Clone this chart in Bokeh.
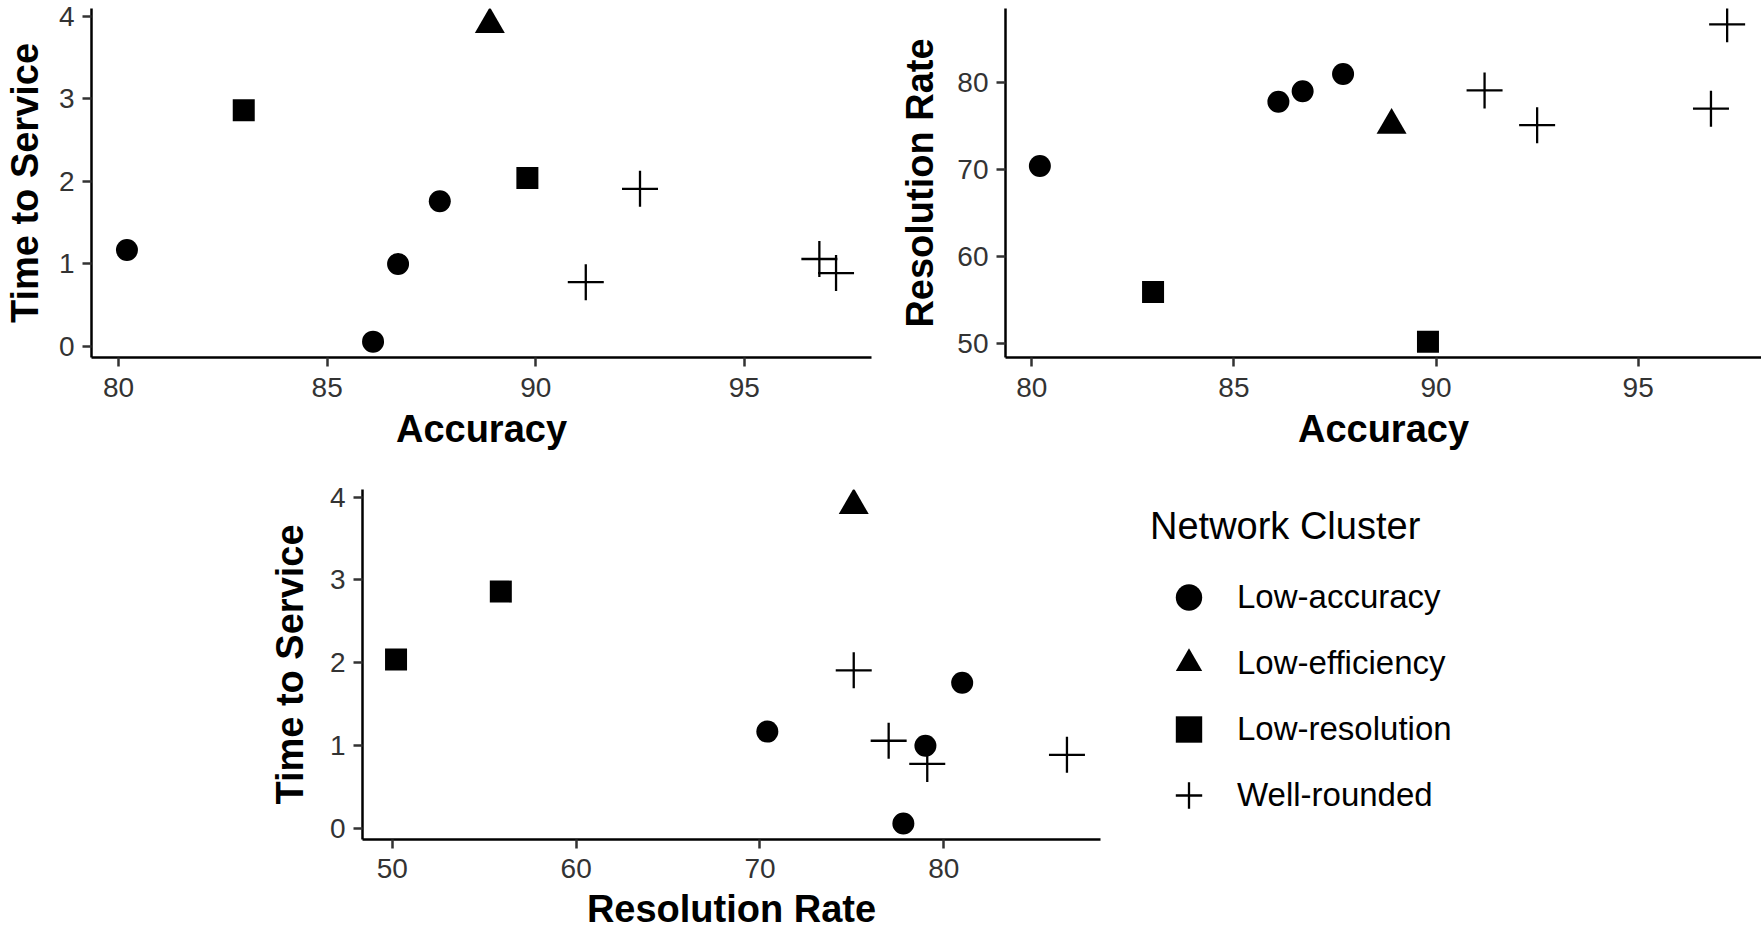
from bokeh.plotting import figure
from bokeh.models import FixedTicker, Range1d, Legend, LegendItem
from bokeh.layouts import column, row
from bokeh.embed import file_html
from bokeh.resources import INLINE

# ---- data ----
clusters = ["Low-accuracy", "Low-efficiency", "Low-resolution", "Well-rounded"]

low_accuracy_acc = [80.2, 86.1, 86.7, 87.7]
low_accuracy_tts = [1.17, 0.06, 1.00, 1.76]
low_accuracy_rr = [70.4, 77.8, 79.0, 81.0]

low_efficiency_acc = [88.9]
low_efficiency_tts = [3.90]
low_efficiency_rr = [75.1]

low_resolution_acc = [83.0, 89.8]
low_resolution_tts = [2.86, 2.04]
low_resolution_rr = [55.9, 50.2]

well_rounded_acc = [91.2, 92.5, 96.8, 97.2]
well_rounded_tts = [0.78, 1.91, 1.06, 0.89]
well_rounded_rr = [79.1, 75.1, 77.0, 86.7]

acc_ticks = [80, 85, 90, 95]
tts_ticks = [0, 1, 2, 3, 4]
rr_ticks = [50, 60, 70, 80]

series = {
    "Low-accuracy": dict(acc=low_accuracy_acc, tts=low_accuracy_tts, rr=low_accuracy_rr),
    "Low-efficiency": dict(acc=low_efficiency_acc, tts=low_efficiency_tts, rr=low_efficiency_rr),
    "Low-resolution": dict(acc=low_resolution_acc, tts=low_resolution_tts, rr=low_resolution_rr),
    "Well-rounded": dict(acc=well_rounded_acc, tts=well_rounded_tts, rr=well_rounded_rr),
}

marker_style = {
    "Low-accuracy": dict(marker="circle", size=22, fill_color="black", line_color=None),
    "Low-efficiency": dict(marker="triangle", size=30, fill_color="black", line_color=None),
    "Low-resolution": dict(marker="square", size=22, fill_color="black", line_color=None),
    "Well-rounded": dict(marker="cross", size=36, fill_color=None, line_color="black", line_width=2.3),
}

FONT = "Liberation Sans"


def expanded(key):
    vals = [v for c in clusters for v in series[c][key]]
    lo, hi = min(vals), max(vals)
    pad = 0.05 * (hi - lo)
    return lo - pad, hi + pad


def style_axis(ax, ticks, label, tick_standoff, label_standoff):
    ax.ticker = FixedTicker(ticks=ticks)
    ax.axis_label = label
    ax.axis_line_color = "black"
    ax.axis_line_width = 2.5
    ax.major_tick_line_color = "#333333"
    ax.major_tick_line_width = 2.5
    ax.major_tick_in = 0
    ax.major_tick_out = 9
    ax.minor_tick_line_color = None
    ax.major_label_text_font = FONT
    ax.major_label_text_font_size = "28px"
    ax.major_label_text_color = "#333333"
    ax.major_label_standoff = tick_standoff
    ax.axis_label_text_font = FONT
    ax.axis_label_text_font_size = "38px"
    ax.axis_label_text_font_style = "bold"
    ax.axis_label_text_color = "black"
    ax.axis_label_standoff = label_standoff


def base_fig(width, height, xr, yr, mb_left, mb_right, mb_top, mb_bottom, **kw):
    p = figure(width=width, height=height,
               x_range=Range1d(*xr), y_range=Range1d(*yr),
               output_backend="svg", toolbar_location=None,
               min_border_left=mb_left, min_border_right=mb_right,
               min_border_top=mb_top, min_border_bottom=mb_bottom, **kw)
    p.outline_line_color = None
    p.grid.visible = False
    p.background_fill_color = "white"
    p.border_fill_color = "white"
    if "frame_align" in p.properties():
        p.frame_align = False
    return p


def make_fig(xkey, ykey, xlabel, ylabel, xticks, yticks, width, height,
             mb_left, mb_right, mb_top, mb_bottom, xts=11, xls=8, yls=14):
    p = base_fig(width, height, expanded(xkey), expanded(ykey),
                 mb_left, mb_right, mb_top, mb_bottom)
    style_axis(p.xaxis[0], xticks, xlabel, xts, xls)
    style_axis(p.yaxis[0], yticks, ylabel, 8, yls)
    for c in clusters:
        d = series[c]
        p.scatter(x=d[xkey], y=d[ykey], **marker_style[c])
    return p


# top-left: Accuracy vs Time to Service
p1 = make_fig("acc", "tts", "Accuracy", "Time to Service", acc_ticks, tts_ticks,
              width=895, height=466, mb_left=91, mb_right=24, mb_top=8, mb_bottom=109,
              xts=11, xls=8, yls=10)

# top-right: Accuracy vs Resolution Rate
p2 = make_fig("acc", "rr", "Accuracy", "Resolution Rate", acc_ticks, rr_ticks,
              width=866, height=466, mb_left=110, mb_right=0, mb_top=8, mb_bottom=109,
              xts=11, xls=8, yls=13)

# bottom: Resolution Rate vs Time to Service
p3 = make_fig("rr", "tts", "Resolution Rate", "Time to Service", rr_ticks, tts_ticks,
              width=1110, height=466, mb_left=362, mb_right=10, mb_top=23, mb_bottom=93,
              xts=10, xls=7, yls=16)

# legend panel: its glyph renderers hold the same series but lie outside the visible range
LEG_M = 16
pl = base_fig(651, 466, (0, 1), (0, 1), 40 - LEG_M, 0, 23, 93,
              x_axis_type=None, y_axis_type=None)
leg_renderers = {}
for c in clusters:
    d = series[c]
    leg_renderers[c] = pl.scatter(x=d["acc"], y=d["tts"], **marker_style[c])

legend = Legend(
    items=[LegendItem(label=c, renderers=[leg_renderers[c]]) for c in clusters],
    title="Network Cluster",
    location="top_left",
    orientation="vertical",
    glyph_width=77, glyph_height=66,
    label_standoff=10, spacing=0, padding=0, margin=LEG_M,
    border_line_color=None, background_fill_alpha=0,
    title_text_font=FONT, title_text_font_size="38px", title_text_font_style="normal",
    title_text_color="black", title_standoff=16,
    label_text_font=FONT, label_text_font_size="33px", label_text_color="black",
)
pl.add_layout(legend)

layout = column(row(p1, p2), row(p3, pl))
open("out.html", "w").write(file_html(layout, INLINE))
